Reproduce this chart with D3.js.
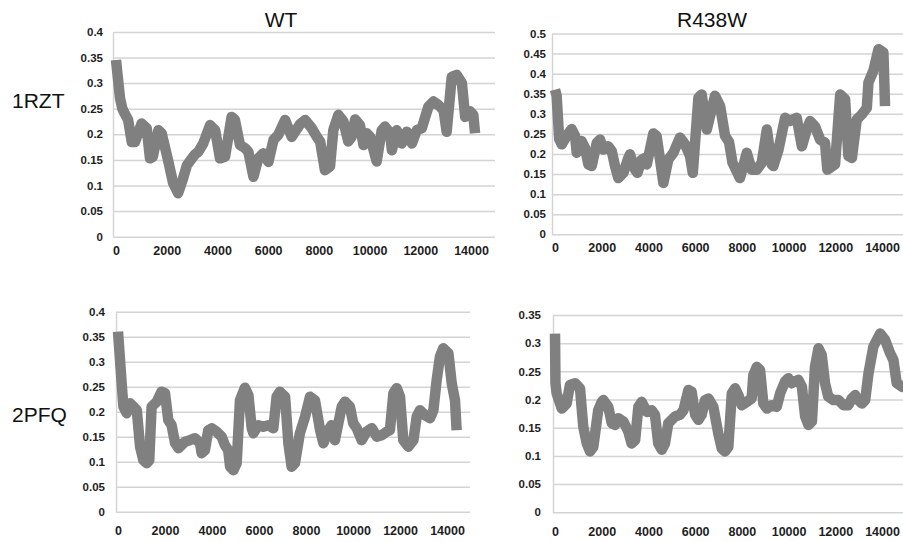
<!DOCTYPE html>
<html lang="en">
<head>
    <meta charset="UTF-8">
    <title>WT / R438W</title>
    <script src="https://cdn.jsdelivr.net/npm/d3@7"></script>
    <style>
        body { margin: 0; background: #fff; }
        svg { display: block; }
        .grid line, .grid path { stroke: #d4d4d4; stroke-width: 1.5; }
        .tick text { font-family: "Liberation Sans", Arial, sans-serif; font-weight: bold; fill: #1e1e1e; }
        .label { font-family: "Liberation Sans", Arial, sans-serif; font-size: 21px; fill: #111; }
        .trace { fill: none; stroke: #808080; stroke-width: 10.5; stroke-linejoin: round; }
    </style>
</head>
<body>
<svg width="903" height="542"></svg>
<script>
    // tick values
    const xTicks = [0, 2000, 4000, 6000, 8000, 10000, 12000, 14000];
    const yTicks04 = [0, 0.05, 0.1, 0.15, 0.2, 0.25, 0.3, 0.35, 0.4];
    const yTicks05 = [0, 0.05, 0.1, 0.15, 0.2, 0.25, 0.3, 0.35, 0.4, 0.45, 0.5];
    const yTicks035 = [0, 0.05, 0.1, 0.15, 0.2, 0.25, 0.3, 0.35];

    const columns = ["WT", "R438W"];
    const rows = ["1RZT", "2PFQ"];

    // [x, value]
    const wt1rzt = [[0,0.345],[160,0.27],[250,0.25],[350,0.24],[480,0.228],[620,0.185],[750,0.185],[1010,0.221],[1210,0.212],[1340,0.153],[1450,0.156],[1670,0.208],[1800,0.202],[2050,0.15],[2250,0.105],[2450,0.085],[2620,0.11],[2800,0.14],[2950,0.15],[3100,0.16],[3250,0.166],[3440,0.182],[3710,0.218],[3910,0.208],[4100,0.153],[4300,0.156],[4560,0.234],[4690,0.228],[4890,0.179],[5090,0.173],[5220,0.166],[5420,0.117],[5610,0.153],[5810,0.163],[6010,0.146],[6210,0.189],[6400,0.199],[6670,0.228],[6930,0.195],[7260,0.22],[7460,0.228],[7720,0.212],[7920,0.195],[8050,0.186],[8240,0.13],[8440,0.137],[8570,0.208],[8770,0.238],[8970,0.225],[9160,0.186],[9290,0.195],[9430,0.229],[9620,0.218],[9760,0.179],[9890,0.202],[10020,0.195],[10280,0.147],[10480,0.208],[10610,0.215],[10810,0.202],[10880,0.169],[11070,0.208],[11270,0.182],[11470,0.205],[11670,0.182],[11860,0.208],[12060,0.212],[12320,0.254],[12520,0.264],[12720,0.257],[12920,0.247],[13040,0.205],[13240,0.312],[13440,0.316],[13640,0.3],[13770,0.234],[13960,0.245],[14090,0.238],[14160,0.202]];

    const r438w1rzt = [[0,0.36],[70,0.345],[180,0.237],[290,0.224],[500,0.245],[710,0.262],[860,0.245],[930,0.203],[1140,0.232],[1280,0.216],[1430,0.174],[1570,0.17],[1790,0.228],[1930,0.236],[2070,0.211],[2280,0.219],[2430,0.207],[2570,0.17],[2710,0.14],[2930,0.153],[3140,0.19],[3210,0.199],[3430,0.161],[3530,0.153],[3710,0.186],[3850,0.19],[3930,0.174],[4210,0.251],[4350,0.245],[4640,0.128],[4850,0.186],[5070,0.203],[5350,0.241],[5570,0.224],[5780,0.195],[5900,0.153],[6140,0.34],[6280,0.348],[6500,0.261],[6850,0.345],[7070,0.319],[7280,0.245],[7450,0.23],[7600,0.178],[7920,0.14],[8210,0.203],[8420,0.161],[8640,0.161],[8850,0.178],[9070,0.261],[9280,0.174],[9350,0.17],[9570,0.211],[9850,0.29],[10060,0.282],[10350,0.29],[10570,0.219],[10780,0.261],[10920,0.282],[11130,0.269],[11350,0.236],[11560,0.228],[11660,0.161],[11990,0.174],[12210,0.348],[12420,0.336],[12560,0.195],[12710,0.19],[12920,0.286],[13130,0.298],[13350,0.315],[13420,0.378],[13630,0.407],[13850,0.461],[14060,0.453],[14130,0.319]];

    const wt2pfq = [[0,0.36],[155,0.257],[230,0.21],[370,0.197],[510,0.217],[800,0.203],[940,0.13],[1080,0.103],[1220,0.097],[1330,0.103],[1430,0.21],[1650,0.22],[1850,0.24],[2000,0.237],[2140,0.183],[2280,0.173],[2430,0.137],[2570,0.127],[2850,0.14],[3060,0.143],[3280,0.147],[3490,0.137],[3560,0.117],[3700,0.123],[3840,0.163],[3990,0.167],[4200,0.16],[4410,0.15],[4550,0.133],[4690,0.123],[4770,0.09],[4910,0.083],[5050,0.097],[5190,0.223],[5400,0.248],[5550,0.233],[5690,0.167],[5760,0.157],[5970,0.173],[6180,0.17],[6400,0.173],[6610,0.167],[6750,0.23],[6890,0.24],[7110,0.23],[7250,0.137],[7390,0.09],[7530,0.097],[7740,0.157],[7960,0.19],[8170,0.23],[8380,0.223],[8600,0.163],[8740,0.137],[8950,0.163],[9090,0.173],[9230,0.143],[9520,0.21],[9660,0.22],[9870,0.21],[10010,0.177],[10160,0.167],[10370,0.143],[10580,0.16],[10800,0.167],[11010,0.15],[11220,0.153],[11430,0.16],[11570,0.163],[11720,0.237],[11860,0.247],[12000,0.23],[12140,0.143],[12350,0.13],[12570,0.143],[12710,0.19],[12850,0.203],[13060,0.193],[13280,0.187],[13420,0.203],[13560,0.263],[13700,0.31],[13840,0.327],[14060,0.317],[14200,0.257],[14340,0.223],[14410,0.163]];

    const r438w2pfq = [[0,0.317],[20,0.229],[70,0.211],[290,0.184],[500,0.193],[640,0.226],[860,0.229],[1070,0.22],[1210,0.152],[1360,0.122],[1500,0.108],[1640,0.116],[1850,0.181],[2000,0.196],[2070,0.199],[2280,0.187],[2430,0.158],[2570,0.155],[2710,0.167],[2930,0.161],[3140,0.143],[3280,0.122],[3430,0.128],[3570,0.187],[3710,0.196],[3930,0.178],[4140,0.181],[4280,0.173],[4420,0.122],[4570,0.111],[4710,0.122],[4850,0.158],[5140,0.17],[5350,0.173],[5500,0.181],[5710,0.217],[5850,0.214],[6000,0.173],[6140,0.164],[6280,0.173],[6420,0.199],[6570,0.202],[6780,0.187],[6990,0.14],[7140,0.113],[7280,0.108],[7420,0.116],[7570,0.211],[7710,0.22],[7850,0.208],[8000,0.19],[8210,0.196],[8420,0.202],[8490,0.243],[8640,0.258],[8780,0.252],[8920,0.193],[9070,0.184],[9280,0.19],[9490,0.187],[9640,0.211],[9850,0.232],[9990,0.238],[10140,0.229],[10280,0.232],[10420,0.235],[10570,0.223],[10710,0.17],[10850,0.155],[11000,0.161],[11130,0.258],[11280,0.291],[11420,0.279],[11560,0.229],[11700,0.205],[11920,0.199],[12140,0.199],[12350,0.19],[12560,0.19],[12710,0.202],[12850,0.208],[12990,0.199],[13140,0.193],[13280,0.199],[13420,0.246],[13630,0.294],[13920,0.317],[14130,0.306],[14350,0.282],[14490,0.27],[14630,0.229],[14850,0.223],[15100,0.22]];

    const svg = d3.select("svg");

    // panel placement in pixels
    const panels = [
        { data: wt1rzt, yMax: 0.4, yTicks: yTicks04, x0: 116, x14: 471, axisX: 113, right: 495, top: 31.9, bottom: 236.7, yPad: 10, xPad: 9 },
        { data: r438w1rzt, yMax: 0.5, yTicks: yTicks05, x0: 555, x14: 882, axisX: 552, right: 903, top: 33.5, bottom: 234.3, yPad: 6, xPad: 9 },
        { data: wt2pfq, yMax: 0.4, yTicks: yTicks04, x0: 118, x14: 447, axisX: 116, right: 470, top: 311.7, bottom: 511.7, yPad: 11, xPad: 14 },
        { data: r438w2pfq, yMax: 0.35, yTicks: yTicks035, x0: 555, x14: 882, axisX: 553, right: 903, top: 315, bottom: 512.3, yPad: 12, xPad: 15 }
    ];

    const fmt = d => d === 0 ? "0" : String(+d.toFixed(2));

    panels.forEach(p => {
        const x = d3.scaleLinear().domain([0, 14000]).range([p.x0, p.x14]);
        const y = d3.scaleLinear().domain([0, p.yMax]).range([p.bottom, p.top]);
        const g = svg.append("g");

        // y axis with gridlines
        g.append("g")
            .attr("class", "grid")
            .attr("transform", `translate(${p.axisX},0)`)
            .call(d3.axisLeft(y).tickValues(p.yTicks).tickFormat(fmt)
                .tickSize(-(p.right - p.axisX)).tickSizeOuter(0).tickPadding(p.yPad))
            .call(a => a.selectAll("text").style("font-size", "11.5px"));

        // x labels
        g.append("g")
            .attr("transform", `translate(0,${p.bottom})`)
            .call(d3.axisBottom(x).tickValues(xTicks).tickFormat(d3.format("d"))
                .tickSize(0).tickPadding(p.xPad))
            .call(a => a.select(".domain").remove())
            .call(a => a.selectAll("text").style("font-size", "12.5px"));

        const line = d3.line().x(d => x(d[0])).y(d => y(d[1]));
        g.append("path")
            .datum(p.data)
            .attr("class", "trace")
            .attr("d", line);
    });

    // column and row labels
    svg.selectAll(".col").data(columns).enter().append("text")
        .attr("class", "label")
        .attr("text-anchor", "middle")
        .attr("x", (d, i) => [281, 712][i])
        .attr("y", 27)
        .text(d => d);

    svg.selectAll(".row").data(rows).enter().append("text")
        .attr("class", "label")
        .attr("x", 12)
        .attr("y", (d, i) => [108, 422][i])
        .text(d => d);
</script>
</body>
</html>
